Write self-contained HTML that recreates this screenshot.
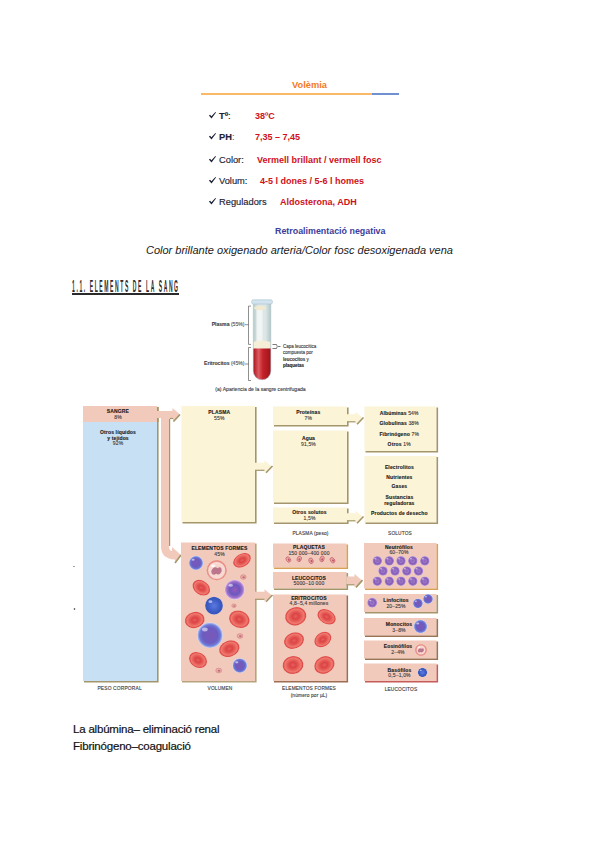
<!DOCTYPE html>
<html><head><meta charset="utf-8">
<style>
html,body{margin:0;padding:0;background:#fff;}
body{width:600px;height:848px;position:relative;overflow:hidden;font-family:"Liberation Sans",sans-serif;}
.t{position:absolute;white-space:nowrap;line-height:1;}
.ar{font-family:"Liberation Sans",sans-serif;font-size:9.3px;}
.lab{color:#1c2236;-webkit-text-stroke:0.15px #1c2236;}
.val{color:#d0101a;font-weight:bold;font-size:9px;}
#fig{position:absolute;left:0;top:0;}
#fig text{font-family:"Liberation Sans",sans-serif;}
</style></head>
<body>
<!-- Volemia block -->
<div class="t ar" style="left:292px;top:80.5px;color:#f47a1e;font-weight:bold;">Volèmia</div>
<div style="position:absolute;left:201px;top:93px;width:171px;height:2px;background:#fbb867;"></div>
<div style="position:absolute;left:372px;top:93px;width:27px;height:2px;background:#7190cf;"></div>

<svg class="ck" style="position:absolute;left:208px;top:111px;" width="9" height="9" viewBox="0 0 9 9"><path d="M0.9 4.6 L2.1 3.7 L3.4 5.3 L7.4 1.0 L8.0 1.5 L3.5 7.4 Z" fill="#1e2235"/></svg><div class="t ar lab" style="left:219px;top:112px;"><b>Tº</b>:</div>
<div class="t ar val" style="left:255px;top:112px;">38ºC</div>
<svg class="ck" style="position:absolute;left:208px;top:131.5px;" width="9" height="9" viewBox="0 0 9 9"><path d="M0.9 4.6 L2.1 3.7 L3.4 5.3 L7.4 1.0 L8.0 1.5 L3.5 7.4 Z" fill="#1e2235"/></svg><div class="t ar lab" style="left:219px;top:132.5px;"><b>PH</b><span style="color:#9ab">:</span></div>
<div class="t ar val" style="left:255px;top:132.5px;">7,35 – 7,45</div>
<svg class="ck" style="position:absolute;left:208px;top:154.5px;" width="9" height="9" viewBox="0 0 9 9"><path d="M0.9 4.6 L2.1 3.7 L3.4 5.3 L7.4 1.0 L8.0 1.5 L3.5 7.4 Z" fill="#1e2235"/></svg><div class="t ar lab" style="left:219px;top:155.5px;">Color:</div>
<div class="t ar val" style="left:257px;top:155.5px;">Vermell brillant / vermell fosc</div>
<svg class="ck" style="position:absolute;left:208px;top:175.5px;" width="9" height="9" viewBox="0 0 9 9"><path d="M0.9 4.6 L2.1 3.7 L3.4 5.3 L7.4 1.0 L8.0 1.5 L3.5 7.4 Z" fill="#1e2235"/></svg><div class="t ar lab" style="left:219px;top:176.5px;">Volum:</div>
<div class="t ar val" style="left:260px;top:176.5px;">4-5 l dones / 5-6 l homes</div>
<svg class="ck" style="position:absolute;left:208px;top:196.5px;" width="9" height="9" viewBox="0 0 9 9"><path d="M0.9 4.6 L2.1 3.7 L3.4 5.3 L7.4 1.0 L8.0 1.5 L3.5 7.4 Z" fill="#1e2235"/></svg><div class="t ar lab" style="left:219px;top:197.5px;">Reguladors</div>
<div class="t ar val" style="left:280px;top:197.5px;">Aldosterona, ADH</div>
<div class="t ar" style="left:275px;top:226.5px;color:#3b3d9c;font-weight:bold;font-size:8.9px;">Retroalimentació negativa</div>

<div class="t" style="left:146px;top:245px;font-size:11px;font-style:italic;color:#1a1a1a;">Color brillante oxigenado arteria/Color fosc desoxigenada vena</div>

<div class="t" style="left:72px;top:278.6px;font-size:16.8px;color:#2a2a2a;font-weight:bold;transform:scaleX(0.30);transform-origin:0 0;letter-spacing:5.3px;">1.1. ELEMENTS DE LA SANG</div>
<div style="position:absolute;left:72px;top:293px;width:107px;height:1.5px;background:#2a2a2a;"></div>

<div class="t" style="left:73px;top:723.5px;font-size:11.5px;color:#111;letter-spacing:-0.2px;-webkit-text-stroke:0.2px #111;">La albúmina– eliminació renal</div>
<div class="t" style="left:73px;top:741px;font-size:11.5px;color:#111;letter-spacing:-0.2px;-webkit-text-stroke:0.2px #111;">Fibrinógeno–coagulació</div>

<svg id="fig" width="600" height="848" viewBox="0 0 600 848">
<defs><linearGradient id="tube" x1="0" x2="1"><stop offset="0" stop-color="#b6cccc"/><stop offset="0.3" stop-color="#dfe8e8"/><stop offset="0.7" stop-color="#dde6e6"/><stop offset="1" stop-color="#b2c6c8"/></linearGradient><linearGradient id="blood" x1="0" x2="1"><stop offset="0" stop-color="#a8141c"/><stop offset="0.3" stop-color="#de5a60"/><stop offset="0.55" stop-color="#c4222a"/><stop offset="1" stop-color="#a0121a"/></linearGradient><radialGradient id="rbc"><stop offset="0" stop-color="#e66058"/><stop offset="0.3" stop-color="#dc4446"/><stop offset="0.55" stop-color="#e65e58"/><stop offset="0.78" stop-color="#f07a70"/><stop offset="0.92" stop-color="#de4a48"/><stop offset="1" stop-color="#e46e66"/></radialGradient><radialGradient id="lym"><stop offset="0" stop-color="#7a58b8"/><stop offset="0.6" stop-color="#6d5cc0"/><stop offset="0.82" stop-color="#6c7ad8"/><stop offset="0.95" stop-color="#a8b8ee"/><stop offset="1" stop-color="#d8def4"/></radialGradient><radialGradient id="lym2"><stop offset="0" stop-color="#9a5ab8"/><stop offset="0.5" stop-color="#6a58c0"/><stop offset="0.8" stop-color="#a070c8"/><stop offset="0.95" stop-color="#c8a8e8"/><stop offset="1" stop-color="#e8d8f4"/></radialGradient><radialGradient id="blu"><stop offset="0" stop-color="#5a7ae0"/><stop offset="0.7" stop-color="#3c5ac4"/><stop offset="0.92" stop-color="#3a56b8"/><stop offset="1" stop-color="#8aa0e0"/></radialGradient><radialGradient id="neu"><stop offset="0" stop-color="#8a62b8"/><stop offset="0.35" stop-color="#9a76c8"/><stop offset="0.65" stop-color="#8458b4"/><stop offset="0.9" stop-color="#a888d0"/><stop offset="1" stop-color="#c8b4e4"/></radialGradient><radialGradient id="eos"><stop offset="0" stop-color="#f4c8c0"/><stop offset="0.7" stop-color="#f8dcd4"/><stop offset="0.9" stop-color="#f6d0c8"/><stop offset="1" stop-color="#ec9a90"/></radialGradient></defs>
<path d="M253.3 303 V371 A8.75 8.75 0 0 0 270.8 371 V303 Z" fill="url(#tube)"/>
<rect x="256.5" y="310" width="6" height="31" fill="#f6f8f8" opacity="0.8"/>
<ellipse cx="260" cy="308" rx="6" ry="2.2" fill="#f2ead0"/>
<path d="M253.6 342 Q262 339 270.5 342 V348.8 H253.6 Z" fill="#f5efd8"/>
<path d="M253.3 348.5 V371 A8.75 8.75 0 0 0 270.8 371 V348.5 Z" fill="url(#blood)"/>
<path d="M253.3 303 V371 A8.75 8.75 0 0 0 270.8 371 V303" fill="none" stroke="#a8bcc4" stroke-width="0.5"/>
<rect x="251.7" y="299.8" width="20.7" height="4.2" rx="1.6" fill="#d4e4ee" stroke="#a6bfd0" stroke-width="0.6"/>
<path d="M251 306.1 H248.5 V344.4 H251 M248.5 324.7 H245" fill="none" stroke="#444" stroke-width="0.6"/>
<path d="M251 347.5 H248.5 V380.5 H251 M248.5 364 H245" fill="none" stroke="#444" stroke-width="0.6"/>
<path d="M272.5 344.5 H276.5 Q278 346.5 276.5 348.5 H272.5 M278 346.5 H280.5" fill="none" stroke="#444" stroke-width="0.7"/>
<text x="244.5" y="326" font-size="5.1" font-weight="normal" text-anchor="end" fill="#3c3c3c" stroke="#3c3c3c" stroke-width="0.12" letter-spacing="0"><tspan font-weight="bold">Plasma</tspan> <tspan fill="#666">(55%)</tspan></text>
<text x="244.5" y="365.3" font-size="5.1" font-weight="normal" text-anchor="end" fill="#3c3c3c" stroke="#3c3c3c" stroke-width="0.12" letter-spacing="0"><tspan font-weight="bold">Eritrocitos</tspan> <tspan fill="#666">(45%)</tspan></text>
<text x="283" y="347.5" font-size="4.5" font-weight="normal" text-anchor="start" fill="#3c3c3c" stroke="#3c3c3c" stroke-width="0.12" letter-spacing="0">Capa leucocítica</text>
<text x="283" y="354" font-size="4.5" font-weight="normal" text-anchor="start" fill="#3c3c3c" stroke="#3c3c3c" stroke-width="0.12" letter-spacing="0">compuesta por</text>
<text x="283" y="360.5" font-size="4.5" font-weight="normal" text-anchor="start" fill="#3c3c3c" stroke="#3c3c3c" stroke-width="0.12" letter-spacing="0"><tspan font-weight="bold">leucocitos</tspan> y</text>
<text x="283" y="367" font-size="4.5" font-weight="bold" text-anchor="start" fill="#1a1a1a" stroke="#1a1a1a" stroke-width="0.12" letter-spacing="0">plaquetas</text>
<text x="260.5" y="390.5" font-size="5.1" font-weight="normal" text-anchor="middle" fill="#3c3c3c" stroke="#3c3c3c" stroke-width="0.12" letter-spacing="0">(a) Apariencia de la sangre centrifugada</text>
<circle cx="74" cy="566.5" r="0.6" fill="#333"/><circle cx="74.5" cy="609" r="0.8" fill="#222"/>
<rect x="83" y="406" width="74" height="275" fill="#c7e0f4"/>
<path d="M157.8 407 V681.8 H84" fill="none" stroke="#a4966a" stroke-width="1.6"/>
<rect x="83" y="406" width="74" height="16" fill="#f2cabb"/>
<path d="M157.8 407 V422" stroke="#a4966a" stroke-width="1.6"/>
<text x="117.8" y="413" font-size="5.0" font-weight="bold" text-anchor="middle" fill="#1a1a1a" stroke="#1a1a1a" stroke-width="0.12" letter-spacing="0.15">SANGRE</text>
<text x="118" y="418.6" font-size="5.0" font-weight="normal" text-anchor="middle" fill="#3c3c3c" stroke="#3c3c3c" stroke-width="0.12" letter-spacing="0.15">8%</text>
<text x="118" y="433.6" font-size="5.0" font-weight="bold" text-anchor="middle" fill="#1a1a1a" stroke="#1a1a1a" stroke-width="0.12" letter-spacing="0.15">Otros líquidos</text>
<text x="118" y="439.5" font-size="5.0" font-weight="bold" text-anchor="middle" fill="#1a1a1a" stroke="#1a1a1a" stroke-width="0.12" letter-spacing="0.15">y tejidos</text>
<text x="118" y="445.3" font-size="5.0" font-weight="normal" text-anchor="middle" fill="#3c3c3c" stroke="#3c3c3c" stroke-width="0.12" letter-spacing="0.15">92%</text>
<path d="M161 415 H169 V546 Q169 551 172 551 V547 L181 555 L175 563 V559.5 Q161 559 161 546 Z" fill="#f2cabb"/>
<path d="M169.6 419 V546" stroke="#a4966a" stroke-width="1.2"/>
<path d="M181 555 L175 563" stroke="#a4966a" stroke-width="1.6"/>
<path d="M157 411 H172.5 V408 L180 414.5 L173 422 V418 H157 Z" fill="#f2cabb"/>
<path d="M169.6 418.5 H173" stroke="#a4966a" stroke-width="1.2"/>
<path d="M180 414.5 L173.5 421.5" stroke="#a4966a" stroke-width="1.6"/>
<rect x="181.5" y="406" width="73.5" height="116" fill="#fcf4d6"/>
<path d="M255.8 407 V522.8 H182.5" fill="none" stroke="#a4966a" stroke-width="1.6"/>
<text x="219.3" y="413.8" font-size="5.0" font-weight="bold" text-anchor="middle" fill="#1a1a1a" stroke="#1a1a1a" stroke-width="0.12" letter-spacing="0.15">PLASMA</text>
<text x="219.3" y="420" font-size="5.0" font-weight="normal" text-anchor="middle" fill="#3c3c3c" stroke="#3c3c3c" stroke-width="0.12" letter-spacing="0.15">55%</text>
<path d="M255 462.7 H264.5 V460.2 L272 466.5 L264.5 472.8 V470.3 H255 Z" fill="#fcf4d6"/>
<path d="M255 470.3 H264.5" stroke="#a4966a" stroke-width="1.2" fill="none"/>
<path d="M272.5 466.0 L266.0 472.8" stroke="#a4966a" stroke-width="1.6" fill="none"/>
<rect x="273" y="406.5" width="74" height="18.5" fill="#fcf4d6"/>
<path d="M347.8 407.5 V425.8 H274" fill="none" stroke="#a4966a" stroke-width="1.6"/>
<text x="308.3" y="413.5" font-size="5.0" font-weight="bold" text-anchor="middle" fill="#1a1a1a" stroke="#1a1a1a" stroke-width="0.12" letter-spacing="0.15">Proteínas</text>
<text x="308.3" y="419.5" font-size="5.0" font-weight="normal" text-anchor="middle" fill="#3c3c3c" stroke="#3c3c3c" stroke-width="0.12" letter-spacing="0.15">7%</text>
<rect x="273" y="430.5" width="74" height="72.0" fill="#fcf4d6"/>
<path d="M347.8 431.5 V503.3 H274" fill="none" stroke="#a4966a" stroke-width="1.6"/>
<text x="308.5" y="439.5" font-size="5.0" font-weight="bold" text-anchor="middle" fill="#1a1a1a" stroke="#1a1a1a" stroke-width="0.12" letter-spacing="0.15">Agua</text>
<text x="308.5" y="445.5" font-size="5.0" font-weight="normal" text-anchor="middle" fill="#3c3c3c" stroke="#3c3c3c" stroke-width="0.12" letter-spacing="0.15">91,5%</text>
<rect x="273" y="507.5" width="74" height="15.0" fill="#fcf4d6"/>
<path d="M347.8 508.5 V523.3 H274" fill="none" stroke="#a4966a" stroke-width="1.6"/>
<text x="309.5" y="514" font-size="5.0" font-weight="bold" text-anchor="middle" fill="#1a1a1a" stroke="#1a1a1a" stroke-width="0.12" letter-spacing="0.15">Otros solutos</text>
<text x="309.5" y="519.5" font-size="5.0" font-weight="normal" text-anchor="middle" fill="#3c3c3c" stroke="#3c3c3c" stroke-width="0.12" letter-spacing="0.15">1,5%</text>
<path d="M347 414.2 H355.5 V411.7 L363 418 L355.5 424.3 V421.8 H347 Z" fill="#fcf4d6"/>
<path d="M347 421.8 H355.5" stroke="#a4966a" stroke-width="1.2" fill="none"/>
<path d="M363.5 417.5 L357.0 424.3" stroke="#a4966a" stroke-width="1.6" fill="none"/>
<path d="M347 513.2 H355.5 V510.70000000000005 L363 517 L355.5 523.3 V520.8 H347 Z" fill="#fcf4d6"/>
<path d="M347 520.8 H355.5" stroke="#a4966a" stroke-width="1.2" fill="none"/>
<path d="M363.5 516.5 L357.0 523.3" stroke="#a4966a" stroke-width="1.6" fill="none"/>
<text x="310.5" y="534.5" font-size="4.8" font-weight="normal" text-anchor="middle" fill="#3c3c3c" stroke="#3c3c3c" stroke-width="0.12" letter-spacing="0.15">PLASMA (peso)</text>
<rect x="364.5" y="406.5" width="72.0" height="44.5" fill="#fcf4d6"/>
<path d="M437.3 407.5 V451.8 H365.5" fill="none" stroke="#a4966a" stroke-width="1.6"/>
<text x="399.2" y="414.5" font-size="5.0" font-weight="bold" text-anchor="middle" fill="#1a1a1a" stroke="#1a1a1a" stroke-width="0.12" letter-spacing="0.15">Albúminas <tspan font-weight="normal" fill="#444">54%</tspan></text>
<text x="399.2" y="425.1" font-size="5.0" font-weight="bold" text-anchor="middle" fill="#1a1a1a" stroke="#1a1a1a" stroke-width="0.12" letter-spacing="0.15">Globulinas <tspan font-weight="normal" fill="#444">38%</tspan></text>
<text x="399.2" y="435.7" font-size="5.0" font-weight="bold" text-anchor="middle" fill="#1a1a1a" stroke="#1a1a1a" stroke-width="0.12" letter-spacing="0.15">Fibrinógeno <tspan font-weight="normal" fill="#444">7%</tspan></text>
<text x="399.2" y="446.3" font-size="5.0" font-weight="bold" text-anchor="middle" fill="#1a1a1a" stroke="#1a1a1a" stroke-width="0.12" letter-spacing="0.15">Otros <tspan font-weight="normal" fill="#444">1%</tspan></text>
<rect x="364.5" y="456" width="72.0" height="66.5" fill="#fcf4d6"/>
<path d="M437.3 457 V523.3 H365.5" fill="none" stroke="#a4966a" stroke-width="1.6"/>
<text x="399.4" y="469.2" font-size="5.0" font-weight="bold" text-anchor="middle" fill="#1a1a1a" stroke="#1a1a1a" stroke-width="0.12" letter-spacing="0.15">Electrolitos</text>
<text x="399.4" y="478.8" font-size="5.0" font-weight="bold" text-anchor="middle" fill="#1a1a1a" stroke="#1a1a1a" stroke-width="0.12" letter-spacing="0.15">Nutrientes</text>
<text x="399.4" y="488.4" font-size="5.0" font-weight="bold" text-anchor="middle" fill="#1a1a1a" stroke="#1a1a1a" stroke-width="0.12" letter-spacing="0.15">Gases</text>
<text x="399.4" y="499" font-size="5.0" font-weight="bold" text-anchor="middle" fill="#1a1a1a" stroke="#1a1a1a" stroke-width="0.12" letter-spacing="0.15">Sustancias</text>
<text x="399.4" y="505" font-size="5.0" font-weight="bold" text-anchor="middle" fill="#1a1a1a" stroke="#1a1a1a" stroke-width="0.12" letter-spacing="0.15">reguladoras</text>
<text x="399.4" y="514.5" font-size="5.0" font-weight="bold" text-anchor="middle" fill="#1a1a1a" stroke="#1a1a1a" stroke-width="0.12" letter-spacing="0.15">Productos de desecho</text>
<text x="400" y="534.5" font-size="4.8" font-weight="normal" text-anchor="middle" fill="#3c3c3c" stroke="#3c3c3c" stroke-width="0.12" letter-spacing="0.15">SOLUTOS</text>
<rect x="181" y="542.5" width="74" height="138.5" fill="#f2cabb"/>
<path d="M255.8 543.5 V681.8 H182" fill="none" stroke="#b4a47c" stroke-width="1.6"/>
<text x="219.5" y="549.6" font-size="5.0" font-weight="bold" text-anchor="middle" fill="#1a1a1a" stroke="#1a1a1a" stroke-width="0.12" letter-spacing="0.15">ELEMENTOS FORMES</text>
<text x="219.5" y="555.5" font-size="5.0" font-weight="normal" text-anchor="middle" fill="#3c3c3c" stroke="#3c3c3c" stroke-width="0.12" letter-spacing="0.15">45%</text>
<path d="M255 591.7 H264.5 V589.2 L272 595.5 L264.5 601.8 V599.3 H255 Z" fill="#f2cabb"/>
<path d="M255 599.3 H264.5" stroke="#a4966a" stroke-width="1.2" fill="none"/>
<path d="M272.5 595.0 L266.0 601.8" stroke="#a4966a" stroke-width="1.6" fill="none"/>
<text x="119.6" y="690.3" font-size="4.9" font-weight="normal" text-anchor="middle" fill="#3c3c3c" stroke="#3c3c3c" stroke-width="0.12" letter-spacing="0.15">PESO CORPORAL</text>
<text x="220" y="690.3" font-size="4.8" font-weight="normal" text-anchor="middle" fill="#3c3c3c" stroke="#3c3c3c" stroke-width="0.12" letter-spacing="0.15">VOLUMEN</text>
<rect x="273" y="543.5" width="73.5" height="24.0" fill="#f2cabb"/>
<path d="M347.3 544.5 V568.3 H274" fill="none" stroke="#d9a055" stroke-width="1.6"/>
<text x="309" y="548.7" font-size="5.0" font-weight="bold" text-anchor="middle" fill="#1a1a1a" stroke="#1a1a1a" stroke-width="0.12" letter-spacing="0.15">PLAQUETAS</text>
<text x="309" y="554.8" font-size="5.0" font-weight="normal" text-anchor="middle" fill="#3c3c3c" stroke="#3c3c3c" stroke-width="0.12" letter-spacing="0.15">150 000–400 000</text>
<rect x="273" y="572" width="73.5" height="16.5" fill="#f2cabb"/>
<path d="M347.3 573 V589.3 H274" fill="none" stroke="#a4966a" stroke-width="1.6"/>
<text x="309" y="579.5" font-size="5.0" font-weight="bold" text-anchor="middle" fill="#1a1a1a" stroke="#1a1a1a" stroke-width="0.12" letter-spacing="0.15">LEUCOCITOS</text>
<text x="309" y="585" font-size="5.0" font-weight="normal" text-anchor="middle" fill="#3c3c3c" stroke="#3c3c3c" stroke-width="0.12" letter-spacing="0.15">5000–10 000</text>
<rect x="273" y="594.5" width="73.5" height="86.5" fill="#f2cabb"/>
<path d="M347.3 595.5 V681.8 H274" fill="none" stroke="#9c6e54" stroke-width="1.6"/>
<text x="309" y="599.6" font-size="5.0" font-weight="bold" text-anchor="middle" fill="#1a1a1a" stroke="#1a1a1a" stroke-width="0.12" letter-spacing="0.15">ERITROCITOS</text>
<text x="309" y="605.3" font-size="5.0" font-weight="normal" text-anchor="middle" fill="#3c3c3c" stroke="#3c3c3c" stroke-width="0.12" letter-spacing="0.15">4,8–5,4 millones</text>
<path d="M346.5 576.4 H354.5 V573.8000000000001 L362 580.6 L354.5 587.4 V584.8000000000001 H346.5 Z" fill="#f2cabb"/>
<path d="M346.5 584.8000000000001 H354.5" stroke="#a4966a" stroke-width="1.2" fill="none"/>
<path d="M362.5 580.1 L356.0 587.4" stroke="#a4966a" stroke-width="1.6" fill="none"/>
<text x="309" y="690" font-size="4.8" font-weight="normal" text-anchor="middle" fill="#3c3c3c" stroke="#3c3c3c" stroke-width="0.12" letter-spacing="0.15">ELEMENTOS FORMES</text>
<text x="309" y="696.5" font-size="4.8" font-weight="normal" text-anchor="middle" fill="#3c3c3c" stroke="#3c3c3c" stroke-width="0.12" letter-spacing="0.15">(número por µL)</text>
<rect x="364" y="543" width="72.5" height="45.5" fill="#f2cabb"/>
<path d="M437.3 544 V589.3 H365" fill="none" stroke="#d9a055" stroke-width="1.6"/>
<text x="399" y="548.7" font-size="5.0" font-weight="bold" text-anchor="middle" fill="#1a1a1a" stroke="#1a1a1a" stroke-width="0.12" letter-spacing="0.15">Neutrófilos</text>
<text x="399" y="554.3" font-size="5.0" font-weight="normal" text-anchor="middle" fill="#3c3c3c" stroke="#3c3c3c" stroke-width="0.12" letter-spacing="0.15">60–70%</text>
<rect x="364" y="594" width="72.5" height="18" fill="#f2cabb"/>
<path d="M437.3 595 V612.8 H365" fill="none" stroke="#a4966a" stroke-width="1.6"/>
<text x="396" y="602.2" font-size="5.0" font-weight="bold" text-anchor="middle" fill="#1a1a1a" stroke="#1a1a1a" stroke-width="0.12" letter-spacing="0.15">Linfocitos</text>
<text x="396" y="607.8" font-size="5.0" font-weight="normal" text-anchor="middle" fill="#3c3c3c" stroke="#3c3c3c" stroke-width="0.12" letter-spacing="0.15">20–25%</text>
<rect x="364" y="618" width="72.5" height="17.5" fill="#f2cabb"/>
<path d="M437.3 619 V636.3 H365" fill="none" stroke="#9a7254" stroke-width="1.6"/>
<text x="399" y="625.5" font-size="5.0" font-weight="bold" text-anchor="middle" fill="#1a1a1a" stroke="#1a1a1a" stroke-width="0.12" letter-spacing="0.15">Monocitos</text>
<text x="399" y="631.8" font-size="5.0" font-weight="normal" text-anchor="middle" fill="#3c3c3c" stroke="#3c3c3c" stroke-width="0.12" letter-spacing="0.15">3–8%</text>
<rect x="364" y="640.5" width="72.5" height="18.0" fill="#f2cabb"/>
<path d="M437.3 641.5 V659.3 H365" fill="none" stroke="#9a7254" stroke-width="1.6"/>
<text x="398" y="648" font-size="5.0" font-weight="bold" text-anchor="middle" fill="#1a1a1a" stroke="#1a1a1a" stroke-width="0.12" letter-spacing="0.15">Eosinófilos</text>
<text x="398" y="653.5" font-size="5.0" font-weight="normal" text-anchor="middle" fill="#3c3c3c" stroke="#3c3c3c" stroke-width="0.12" letter-spacing="0.15">2–4%</text>
<rect x="364" y="663.5" width="72.5" height="17.5" fill="#f2cabb"/>
<path d="M437.3 664.5 V681.8 H365" fill="none" stroke="#c85a5a" stroke-width="1.6"/>
<text x="399.5" y="671.6" font-size="5.0" font-weight="bold" text-anchor="middle" fill="#1a1a1a" stroke="#1a1a1a" stroke-width="0.12" letter-spacing="0.15">Basófilos</text>
<text x="399.5" y="677.3" font-size="5.0" font-weight="normal" text-anchor="middle" fill="#3c3c3c" stroke="#3c3c3c" stroke-width="0.12" letter-spacing="0.15">0,5–1,0%</text>
<text x="401" y="690.5" font-size="4.8" font-weight="normal" text-anchor="middle" fill="#3c3c3c" stroke="#3c3c3c" stroke-width="0.12" letter-spacing="0.15">LEUCOCITOS</text>
<circle cx="196" cy="563" r="7.2" fill="url(#lym)"/>
<ellipse cx="193.12" cy="559.76" rx="1.584" ry="1.08" fill="#ffffff" opacity="0.55"/>
<circle cx="216.7" cy="570.3" r="10" fill="url(#eos)"/>
<circle cx="216.7" cy="570.3" r="9.3" fill="none" stroke="#e8867e" stroke-width="1.3" opacity="0.9"/>
<path d="M211.2 571.3 Q213.7 565.3 217.7 568.3 Q221.7 565.3 221.7 571.3 Q219.7 575.8 216.2 573.8 Q211.7 576.3 211.2 571.3 Z" fill="#a85878" opacity="0.75"/>
<ellipse cx="213.2" cy="565.8" rx="2.2" ry="1.4000000000000001" fill="#fff" opacity="0.8"/>
<g transform="translate(242 560.3) rotate(-30)"><ellipse rx="9.5" ry="6.5" fill="url(#rbc)"/></g>
<ellipse cx="243.3" cy="577" rx="2.8" ry="2.2399999999999998" fill="#eab0aa" stroke="#d07a80" stroke-width="0.6"/><ellipse cx="243.60000000000002" cy="577.2" rx="1.26" ry="0.9799999999999999" fill="#c46a76"/>
<g transform="translate(201.3 587.7) rotate(35)"><ellipse rx="9.5" ry="7" fill="url(#rbc)"/></g>
<circle cx="234.7" cy="589.7" r="10" fill="url(#lym2)"/>
<ellipse cx="230.7" cy="585.2" rx="2.2" ry="1.5" fill="#ffffff" opacity="0.55"/>
<circle cx="214" cy="605.7" r="9" fill="url(#blu)"/>
<ellipse cx="210.4" cy="601.6500000000001" rx="1.98" ry="1.3499999999999999" fill="#ffffff" opacity="0.55"/>
<ellipse cx="234" cy="605.7" rx="2.2" ry="1.7600000000000002" fill="#eab0aa" stroke="#d07a80" stroke-width="0.6"/><ellipse cx="234.3" cy="605.9000000000001" rx="0.9900000000000001" ry="0.77" fill="#c46a76"/>
<g transform="translate(194.7 620) rotate(-15)"><ellipse rx="10" ry="8" fill="url(#rbc)"/></g>
<g transform="translate(239.3 619.3) rotate(20)"><ellipse rx="10.5" ry="8.5" fill="url(#rbc)"/></g>
<circle cx="210" cy="635.3" r="12.8" fill="url(#lym)"/>
<ellipse cx="204.88" cy="629.54" rx="2.8160000000000003" ry="1.92" fill="#ffffff" opacity="0.55"/>
<ellipse cx="240" cy="636" rx="2.9" ry="2.32" fill="#eab0aa" stroke="#d07a80" stroke-width="0.6"/><ellipse cx="240.3" cy="636.2" rx="1.305" ry="1.015" fill="#c46a76"/>
<g transform="translate(229.3 648.7) rotate(-20)"><ellipse rx="10.5" ry="8" fill="url(#rbc)"/></g>
<g transform="translate(198 660) rotate(30)"><ellipse rx="9.5" ry="7.5" fill="url(#rbc)"/></g>
<circle cx="239.8" cy="665.6" r="7.4" fill="url(#lym)"/>
<ellipse cx="236.84" cy="662.27" rx="1.6280000000000001" ry="1.11" fill="#ffffff" opacity="0.55"/>
<ellipse cx="218.7" cy="670.5" rx="2.9" ry="2.32" fill="#eab0aa" stroke="#d07a80" stroke-width="0.6"/><ellipse cx="219.0" cy="670.7" rx="1.305" ry="1.015" fill="#c46a76"/>
<g transform="translate(295.7 616.3) rotate(-15)"><ellipse rx="10.8" ry="9.2" fill="url(#rbc)"/></g>
<g transform="translate(326.6 616.8) rotate(30)"><ellipse rx="9.8" ry="7" fill="url(#rbc)"/></g>
<g transform="translate(294 640.6) rotate(-20)"><ellipse rx="10.3" ry="8" fill="url(#rbc)"/></g>
<g transform="translate(322.8 639.5) rotate(-35)"><ellipse rx="9.2" ry="7" fill="url(#rbc)"/></g>
<g transform="translate(293 665) rotate(-10)"><ellipse rx="10.5" ry="9" fill="url(#rbc)"/></g>
<g transform="translate(324.4 665) rotate(-25)"><ellipse rx="10.5" ry="8.5" fill="url(#rbc)"/></g>
<g transform="translate(288.3 559.5) rotate(-30)"><ellipse rx="2.1" ry="2.9" fill="#eaa8a4" stroke="#c4606a" stroke-width="0.7"/><ellipse cx="0.3" cy="0.5" rx="0.9" ry="1.2" fill="#c05468"/></g>
<g transform="translate(299.3 558.9) rotate(20)"><ellipse rx="2.1" ry="2.9" fill="#eaa8a4" stroke="#c4606a" stroke-width="0.7"/><ellipse cx="0.3" cy="0.5" rx="0.9" ry="1.2" fill="#c05468"/></g>
<g transform="translate(311 560.8) rotate(-20)"><ellipse rx="2.1" ry="2.9" fill="#eaa8a4" stroke="#c4606a" stroke-width="0.7"/><ellipse cx="0.3" cy="0.5" rx="0.9" ry="1.2" fill="#c05468"/></g>
<g transform="translate(322 558.9) rotate(15)"><ellipse rx="2.1" ry="2.9" fill="#eaa8a4" stroke="#c4606a" stroke-width="0.7"/><ellipse cx="0.3" cy="0.5" rx="0.9" ry="1.2" fill="#c05468"/></g>
<g transform="translate(332.5 560.2) rotate(-35)"><ellipse rx="2.1" ry="2.9" fill="#eaa8a4" stroke="#c4606a" stroke-width="0.7"/><ellipse cx="0.3" cy="0.5" rx="0.9" ry="1.2" fill="#c05468"/></g>
<circle cx="377.3" cy="560.9" r="4.8" fill="url(#neu)"/>
<ellipse cx="375.38" cy="558.74" rx="1.056" ry="0.72" fill="#ffffff" opacity="0.55"/>
<circle cx="377.3" cy="581.2" r="4.8" fill="url(#neu)"/>
<ellipse cx="375.38" cy="579.0400000000001" rx="1.056" ry="0.72" fill="#ffffff" opacity="0.55"/>
<circle cx="389.3" cy="560.9" r="4.8" fill="url(#neu)"/>
<ellipse cx="387.38" cy="558.74" rx="1.056" ry="0.72" fill="#ffffff" opacity="0.55"/>
<circle cx="389.3" cy="581.2" r="4.8" fill="url(#neu)"/>
<ellipse cx="387.38" cy="579.0400000000001" rx="1.056" ry="0.72" fill="#ffffff" opacity="0.55"/>
<circle cx="401" cy="560.9" r="4.8" fill="url(#neu)"/>
<ellipse cx="399.08" cy="558.74" rx="1.056" ry="0.72" fill="#ffffff" opacity="0.55"/>
<circle cx="401" cy="581.2" r="4.8" fill="url(#neu)"/>
<ellipse cx="399.08" cy="579.0400000000001" rx="1.056" ry="0.72" fill="#ffffff" opacity="0.55"/>
<circle cx="412.8" cy="560.9" r="4.8" fill="url(#neu)"/>
<ellipse cx="410.88" cy="558.74" rx="1.056" ry="0.72" fill="#ffffff" opacity="0.55"/>
<circle cx="412.8" cy="581.2" r="4.8" fill="url(#neu)"/>
<ellipse cx="410.88" cy="579.0400000000001" rx="1.056" ry="0.72" fill="#ffffff" opacity="0.55"/>
<circle cx="424.8" cy="560.9" r="4.8" fill="url(#neu)"/>
<ellipse cx="422.88" cy="558.74" rx="1.056" ry="0.72" fill="#ffffff" opacity="0.55"/>
<circle cx="424.8" cy="581.2" r="4.8" fill="url(#neu)"/>
<ellipse cx="422.88" cy="579.0400000000001" rx="1.056" ry="0.72" fill="#ffffff" opacity="0.55"/>
<circle cx="383" cy="571" r="4.8" fill="url(#neu)"/>
<ellipse cx="381.08" cy="568.84" rx="1.056" ry="0.72" fill="#ffffff" opacity="0.55"/>
<circle cx="395" cy="571" r="4.8" fill="url(#neu)"/>
<ellipse cx="393.08" cy="568.84" rx="1.056" ry="0.72" fill="#ffffff" opacity="0.55"/>
<circle cx="406.8" cy="571" r="4.8" fill="url(#neu)"/>
<ellipse cx="404.88" cy="568.84" rx="1.056" ry="0.72" fill="#ffffff" opacity="0.55"/>
<circle cx="418.5" cy="571" r="4.8" fill="url(#neu)"/>
<ellipse cx="416.58" cy="568.84" rx="1.056" ry="0.72" fill="#ffffff" opacity="0.55"/>
<circle cx="372.2" cy="602.7" r="5" fill="url(#neu)"/>
<ellipse cx="370.2" cy="600.45" rx="1.1" ry="0.75" fill="#ffffff" opacity="0.55"/>
<circle cx="417.9" cy="603.4" r="5" fill="url(#lym)"/>
<ellipse cx="415.9" cy="601.15" rx="1.1" ry="0.75" fill="#ffffff" opacity="0.55"/>
<circle cx="428" cy="599" r="5" fill="url(#lym)"/>
<ellipse cx="426.0" cy="596.75" rx="1.1" ry="0.75" fill="#ffffff" opacity="0.55"/>
<circle cx="420.5" cy="626.5" r="6.8" fill="url(#lym)"/>
<ellipse cx="417.78" cy="623.44" rx="1.496" ry="1.02" fill="#ffffff" opacity="0.55"/>
<circle cx="421" cy="650" r="5.8" fill="url(#eos)"/>
<circle cx="421" cy="650" r="5.1" fill="none" stroke="#e8867e" stroke-width="1.3" opacity="0.9"/>
<path d="M417.81 650.58 Q419.26 647.1 421.58 648.84 Q423.9 647.1 423.9 650.58 Q422.74 653.19 420.71 652.03 Q418.1 653.48 417.81 650.58 Z" fill="#a85878" opacity="0.75"/>
<ellipse cx="418.97" cy="647.39" rx="1.276" ry="0.812" fill="#fff" opacity="0.8"/>
<circle cx="422.5" cy="672.5" r="4.6" fill="url(#blu)"/>
<ellipse cx="420.66" cy="670.43" rx="1.012" ry="0.69" fill="#ffffff" opacity="0.55"/>
</svg>
</body></html>
